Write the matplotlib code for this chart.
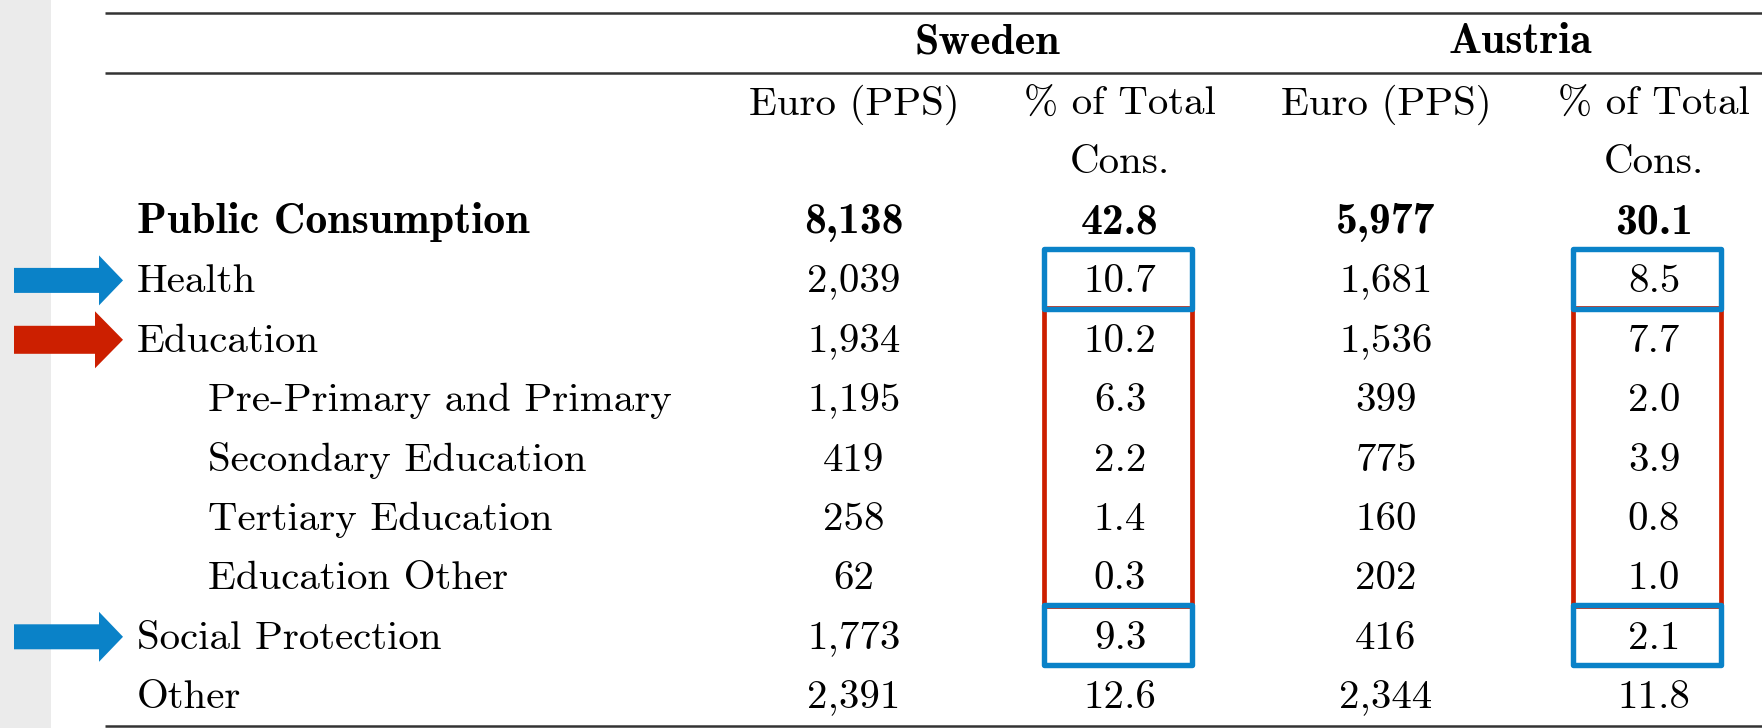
import matplotlib
matplotlib.use("Agg")
import matplotlib.pyplot as plt
from matplotlib.patches import Polygon, Rectangle

# ---------------- data ----------------
countries = ["Sweden", "Austria"]
col_headers_1 = ["Euro (PPS)", "% of Total", "Euro (PPS)", "% of Total"]
col_headers_2 = ["", "Cons.", "", "Cons."]
row_labels = ["Public Consumption", "Health", "Education",
              "Pre-Primary and Primary", "Secondary Education",
              "Tertiary Education", "Education Other",
              "Social Protection", "Other"]
row_indent = [0, 0, 0, 1, 1, 1, 1, 0, 0]
row_bold = [1, 0, 0, 0, 0, 0, 0, 0, 0]
sweden_euro = ["8,138", "2,039", "1,934", "1,195", "419", "258", "62", "1,773", "2,391"]
sweden_pct = ["42.8", "10.7", "10.2", "6.3", "2.2", "1.4", "0.3", "9.3", "12.6"]
austria_euro = ["5,977", "1,681", "1,536", "399", "775", "160", "202", "416", "2,344"]
austria_pct = ["30.1", "8.5", "7.7", "2.0", "3.9", "0.8", "1.0", "2.1", "11.8"]
# highlight groups: (first row, last row, colour)
highlights = [(1, 1, "blue"), (2, 6, "red"), (7, 7, "blue")]
arrow_rows = [(1, "blue"), (2, "red"), (7, "blue")]

BLUE = "#0a82c8"
RED = "#cc1f00"
COLORS = {"blue": BLUE, "red": RED}

W, H = 1762, 728
fig = plt.figure(figsize=(W / 100, H / 100), dpi=100)
ax = fig.add_axes([0, 0, 1, 1])
ax.set_xlim(0, W)
ax.set_ylim(H, 0)
ax.axis("off")

FS = 29.5
FSB = 31.5
REG = "cmr10"
BOLD = "cmb10"

# grey strip on the left
ax.add_patch(Rectangle((0, 0), 51, H, facecolor="#ebebeb", edgecolor="none", zorder=0))

# rules
rule_kw = dict(color="#333333", lw=1.8, solid_capstyle="butt")
ax.plot([105, W], [12.7, 12.7], **rule_kw)
ax.plot([105, W], [72.5, 72.5], **rule_kw)
ax.plot([105, W], [725.5, 725.5], **rule_kw)

col_x = [854, 1120, 1386, 1654]
country_x = [(col_x[0] + col_x[1]) / 2, (col_x[2] + col_x[3]) / 2]

# header
for cx, name in zip(country_x, countries):
    ax.text(cx, 53, name, fontsize=FSB, family=BOLD, ha="center", va="baseline")
for cx, h1, h2 in zip(col_x, col_headers_1, col_headers_2):
    ax.text(cx, 115, h1, fontsize=FS, family=REG, ha="center", va="baseline")
    if h2:
        ax.text(cx, 173, h2, fontsize=FS, family=REG, ha="center", va="baseline")

# body
base0, step = 233, 59.4
columns = [sweden_euro, sweden_pct, austria_euro, austria_pct]
for i, lab in enumerate(row_labels):
    yb = base0 + step * i
    fam = BOLD if row_bold[i] else REG
    fs = FSB if row_bold[i] else FS
    lx = 208 if row_indent[i] else 137
    ax.text(lx, yb, lab, fontsize=fs, family=fam, ha="left", va="baseline")
    for cx, col in zip(col_x, columns):
        ax.text(cx, yb, col[i], fontsize=fs, family=fam, ha="center", va="baseline")

# highlight boxes around % columns
box_x = {1: (1043.5, 1191.5), 3: (1572.5, 1720.5)}
def row_top(i):
    return base0 + step * i - 43.5
def row_bot(i):
    return base0 + step * i + 16.5

for ci, (x0, x1) in box_x.items():
    # red first, blue on top
    for order in ("red", "blue"):
        for r0, r1, c in highlights:
            if c != order:
                continue
            y0, y1 = row_top(r0), row_bot(r1)
            lw = 3.9 if c == "blue" else 3.4
            ax.add_patch(Rectangle((x0, y0), x1 - x0, y1 - y0, fill=False,
                                   edgecolor=COLORS[c], lw=lw, joinstyle="round",
                                   zorder=3))

# arrows
for r, c in arrow_rows:
    yc = base0 + step * r - 12
    if c == "red":
        sh, hh, hx = 14, 28.5, 95
    else:
        sh, hh, hx = 12.5, 25, 99
    pts = [(14, yc - sh), (hx, yc - sh), (hx, yc - hh), (123, yc),
           (hx, yc + hh), (hx, yc + sh), (14, yc + sh)]
    ax.add_patch(Polygon(pts, closed=True, facecolor=COLORS[c], edgecolor="none", zorder=4))

fig.savefig("out.png", dpi=100)
